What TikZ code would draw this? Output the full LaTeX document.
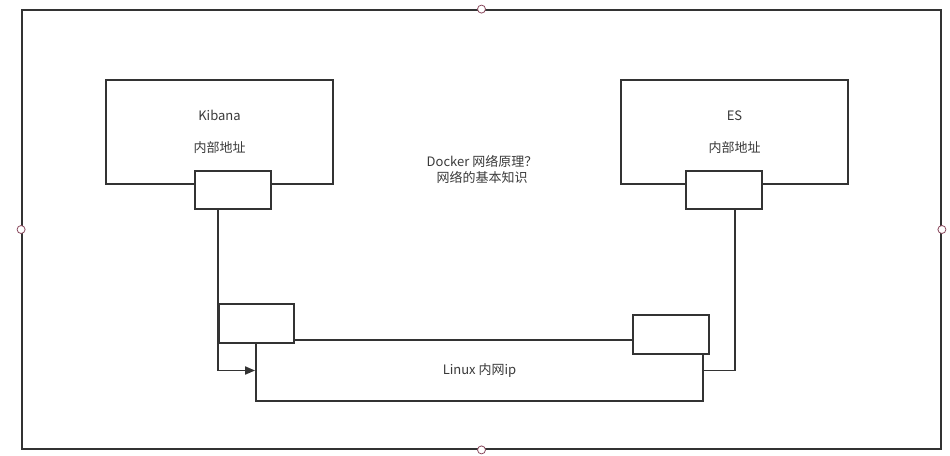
\documentclass[tikz,border=0pt]{standalone}
\usepackage{fontspec}
\setmainfont{Noto Sans CJK SC}
\usepackage{xcolor}
\definecolor{dline}{HTML}{333333}
\definecolor{dtext}{HTML}{3A3A3A}
\definecolor{dhandle}{HTML}{8A4A5E}
\usetikzlibrary{arrows.meta,positioning,calc}

\begin{document}
\begin{tikzpicture}[x=1pt,y=-1pt,font=\fontsize{13}{16}\selectfont,text=dtext,
  box/.style={rectangle,draw=dline,line width=1.8pt,fill=white,inner sep=0pt,align=center},
  port/.style={box,minimum width=76pt,minimum height=38pt},
  handle/.style={circle,draw=dhandle,fill=white,line width=0.8pt,inner sep=0pt,minimum size=8pt},
  arr/.style={-{Triangle[length=10pt,width=8pt]},draw=dline,line width=1.8pt},
  lnk/.style={draw=dline,line width=1.8pt}]
\useasboundingbox (0,0) rectangle (950,455);
% outer frame
\node[box,fill=none,minimum width=919pt,minimum height=439pt] (frame) at (481.5,229.5) {};
% containers
\node[box,minimum width=227pt,minimum height=104pt] (kib) at (219.5,132) {Kibana\\[16pt]内部地址};
\node[box,minimum width=227pt,minimum height=104pt] (es) at (734.5,132) {ES\\[16pt]内部地址};
\node[port] (kibp) at (233,190) {};
\node[port] (esp) at (724,190) {};
\node[align=center] (title) at (482,169) {Docker 网络原理？\\网络的基本知识};
% linux network
\node[box,minimum width=447pt,minimum height=61pt] (linux) at (479.5,370.5) {Linux 内网ip};
\node[box,minimum width=75pt,minimum height=39pt] (lbox) at (256.5,323.5) {};
\node[port,minimum height=39pt] (rbox) at (671,334.5) {};
\coordinate (esdrop) at (735,209);
\draw[arr] (lbox.west |- kibp.south) -- (lbox.west |- linux.west) -- (linux.west);
\draw[lnk] (esdrop) -- (esdrop |- linux.east) -- (linux.east);
% selection handles
\foreach \a in {north,south,east,west}
  \node[handle] (h-\a) at (frame.\a) {};
\end{tikzpicture}
\end{document}
